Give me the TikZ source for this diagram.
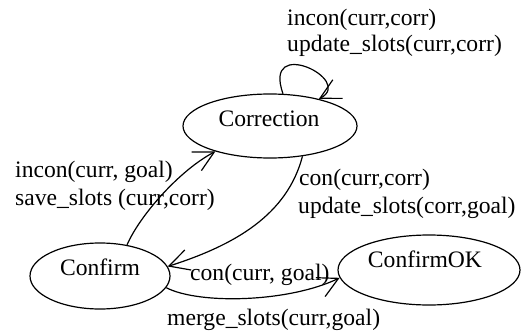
\documentclass[tikz,border=0pt]{standalone}
\usepackage{fontspec}
\setmainfont{Liberation Serif}
\usetikzlibrary{shapes.geometric,arrows.meta}
\begin{document}
\begin{tikzpicture}[x=1pt,y=-1pt,
  state/.style={draw,ellipse,line width=1.2pt,inner sep=0pt},
  lbl/.style={font=\fontsize{23.6}{27}\selectfont,inner sep=0pt,anchor=base west},
  ttl/.style={font=\fontsize{23.6}{27}\selectfont,inner sep=0pt,anchor=base},
  edge/.style={line width=1.2pt,-{Straight Barb[length=20pt,width=21pt]}}]
\useasboundingbox (0,0) rectangle (526,331);
\node[state,minimum width=174pt,minimum height=64pt] (corr) at (270,126) {};
\node[state,minimum width=140pt,minimum height=66pt] (conf) at (100,276) {};
\node[state,minimum width=182pt,minimum height=70pt] (ok) at (429,270) {};
\node[ttl] (corrtxt) at (269,127) {Correction};
\node[ttl] (conftxt) at (100,275) {Confirm};
\node[ttl] (oktxt) at (425,267) {ConfirmOK};
\node[lbl] (l1) at (287,26) {incon(curr,corr)};
\node[lbl] (l2) at (287,52) {update\_slots(curr,corr)};
\node[lbl] (l3) at (15,177) {incon(curr, goal)};
\node[lbl] (l4) at (15,205) {save\_slots (curr,corr)};
\node[lbl] (l5) at (299,185) {con(curr,corr)};
\node[lbl] (l6) at (298,213) {update\_slots(corr,goal)};
\node[lbl] (l7) at (190,280) {con(curr, goal)};
\node[lbl] (l8) at (167,325) {merge\_slots(curr,goal)};
\draw[edge] (corr.68) .. controls (262,35) and (355,80) .. (corr.29);
\draw[edge] (conf.49) .. controls (140,215) and (180,170) .. (corr.205);
\draw[edge] (corr.317) .. controls (287,215) and (235,245) .. (conf.8);
\draw[edge] (conf.350) .. controls (200,305) and (290,302) .. (ok.185);
\end{tikzpicture}
\end{document}
